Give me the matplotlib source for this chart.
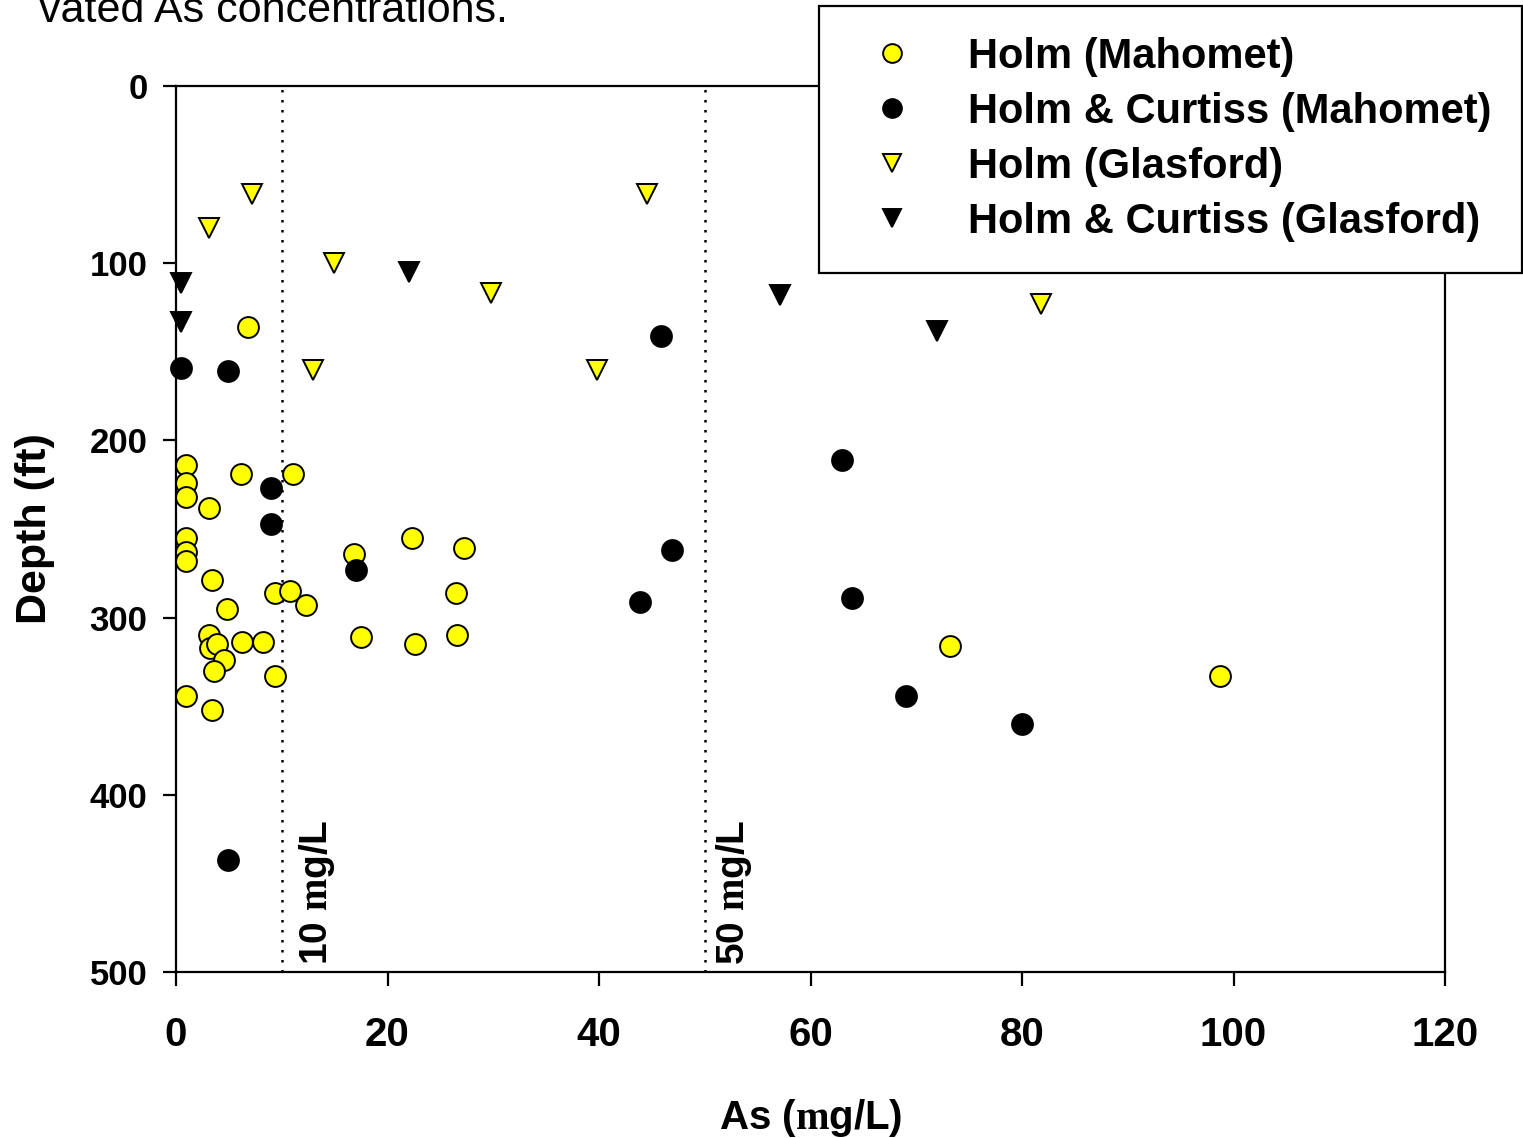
import matplotlib
matplotlib.use("Agg")
import matplotlib.pyplot as plt

plt.rcParams['font.family'] = 'Liberation Sans'
plt.rcParams['font.weight'] = 'bold'
plt.rcParams['mathtext.fontset'] = 'custom'
plt.rcParams['mathtext.rm'] = 'Liberation Serif'
plt.rcParams['mathtext.bf'] = 'Liberation Serif:bold'

# Holm (Mahomet) - yellow circles
holm_mah_as = [6.8, 0.9, 6.1, 11.1, 0.9, 0.9, 3.1, 0.9, 0.9, 0.9, 16.8, 22.3, 27.2,
               3.4, 9.4, 10.8, 12.3, 26.5, 4.8, 3.1, 3.2, 3.9, 6.2, 8.2, 4.5, 3.6,
               9.4, 17.5, 22.6, 26.6, 0.9, 3.4, 73.2, 98.7]
holm_mah_depth = [136, 214, 219, 219, 224, 232, 238, 255, 263, 268, 264, 255, 261,
                  279, 286, 285, 293, 286, 295, 310, 317, 315, 314, 314, 324, 330,
                  333, 311, 315, 310, 344, 352, 316, 333]

# Holm & Curtiss (Mahomet) - black circles
hc_mah_as = [0.5, 4.9, 45.9, 63.0, 9.0, 9.0, 17.0, 46.9, 43.9, 63.9, 69.0, 80.0, 4.9]
hc_mah_depth = [159, 161, 141, 211, 227, 247, 273, 262, 291, 289, 344, 360, 437]

# Holm (Glasford) - yellow triangles
holm_gla_as = [7.2, 3.1, 14.9, 13.0, 29.8, 39.8, 44.5, 81.8]
holm_gla_depth = [61, 80, 100, 160, 117, 160, 61, 123]

# Holm & Curtiss (Glasford) - black triangles
hc_gla_as = [0.5, 0.5, 22.0, 57.1, 72.0]
hc_gla_depth = [111, 133, 105, 118, 138]

limits = [10, 50]
limit_labels = [r'10 $\mathbf{m}$g/L', r'50 $\mathbf{m}$g/L']

fig = plt.figure(figsize=(15.23, 11.38), dpi=100)
ax = fig.add_axes([176 / 1523, 166 / 1138, 1269 / 1523, 886 / 1138])

ms = 15
ax.plot(holm_mah_as, holm_mah_depth, 'o', ms=ms, mfc='yellow', mec='black', mew=1.4,
        label='Holm (Mahomet)', clip_on=False, zorder=3)
ax.plot(hc_mah_as, hc_mah_depth, 'o', ms=ms, mfc='black', mec='black', mew=1.4,
        label='Holm & Curtiss (Mahomet)', clip_on=False, zorder=3)
ax.plot(holm_gla_as, holm_gla_depth, 'v', ms=ms, mfc='yellow', mec='black', mew=1.4,
        label='Holm (Glasford)', clip_on=False, zorder=3)
ax.plot(hc_gla_as, hc_gla_depth, 'v', ms=ms, mfc='black', mec='black', mew=1.4,
        label='Holm & Curtiss (Glasford)', clip_on=False, zorder=3)

for xv, lab, off in zip(limits, limit_labels, [1.4, 0.85]):
    ax.axvline(xv, color='black', lw=1.8, linestyle=(0, (1, 3)), zorder=1)
    ax.text(xv + off, 496, lab, rotation=90, ha='left', va='bottom',
            fontsize=28, fontweight='bold')

ax.set_xlim(0, 120)
ax.set_ylim(500, 0)
ax.set_xticks([0, 20, 40, 60, 80, 100, 120])
ax.set_yticks([0, 100, 200, 300, 400, 500])

for s in ax.spines.values():
    s.set_linewidth(1.6)
ax.tick_params(axis='x', direction='out', length=10, width=1.6, pad=22, labelsize=29)
ax.tick_params(axis='y', direction='out', length=9.5, width=1.6, pad=11, labelsize=25)

ax.set_xlabel(r'As ($\mathbf{m}$g/L)', fontsize=29, fontweight='bold')
ax.xaxis.set_label_coords(0.5, -0.141)
ax.set_ylabel('Depth (ft)', fontsize=31, fontweight='bold')
ax.yaxis.set_label_coords(-0.095, 0.5)

leg = ax.legend(loc='upper right', bbox_to_anchor=(1522 / 1523, 1 - 6 / 1138),
                bbox_transform=fig.transFigure, borderaxespad=0, numpoints=1,
                fontsize=30, frameon=True, fancybox=False, framealpha=1,
                edgecolor='black', borderpad=0.74, labelspacing=0.36,
                handlelength=2.0, handletextpad=0.82, markerscale=0.9)
leg.get_frame().set_linewidth(1.6)

fig.text(508 / 1523, 1 - 22 / 1138, 'vated As concentrations.', ha='right',
         va='baseline', fontsize=31, fontweight='normal')

fig.savefig('out.png', dpi=100)
